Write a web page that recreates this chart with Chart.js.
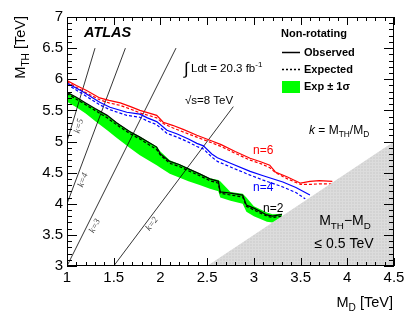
<!DOCTYPE html>
<html>
<head>
<meta charset="utf-8">
<script src="https://cdn.jsdelivr.net/npm/chart.js@4.4.1/dist/chart.umd.min.js"></script>
<style>html,body{margin:0;padding:0;background:#fff;}</style>
</head>
<body>
<canvas id="graph" width="415" height="317"></canvas>
<script>
/* ---------- data (TeV) ---------- */

// n=6 (red)
const n6_obs_x = [1.0,1.1,1.21,1.35,1.45,1.57,1.68,1.78,1.96,2.03,2.13,2.25,2.39,2.53,2.65,2.8,2.96,3.08,3.17,3.23,3.36,3.5,3.6,3.7,3.84];
const n6_obs_y = [5.98,5.90,5.82,5.70,5.66,5.62,5.56,5.50,5.42,5.31,5.26,5.19,5.10,5.02,4.95,4.84,4.73,4.67,4.62,4.51,4.43,4.33,4.36,4.37,4.36];
const n6_exp_y = [5.96,5.87,5.78,5.67,5.62,5.58,5.52,5.46,5.38,5.29,5.22,5.15,5.07,4.99,4.92,4.81,4.70,4.64,4.58,4.50,4.40,4.31,4.31,4.32,4.32];

// n=4 (blue)
const n4_obs_x = [1.0,1.17,1.35,1.46,1.64,1.78,1.86,1.96,2.07,2.18,2.3,2.39,2.46,2.55,2.61,2.75,2.96,3.1,3.31,3.45,3.6];
const n4_obs_y = [5.94,5.80,5.63,5.55,5.47,5.44,5.38,5.32,5.18,5.12,5.04,4.97,4.93,4.80,4.74,4.65,4.52,4.45,4.35,4.26,4.14];
const n4_exp_x = [1.0,1.17,1.35,1.46,1.64,1.78,1.86,1.96,2.07,2.18,2.3,2.39,2.46,2.55,2.61,2.75,2.96,3.1,3.31,3.45,3.55];
const n4_exp_y = [5.92,5.76,5.59,5.51,5.42,5.39,5.33,5.27,5.13,5.07,4.99,4.92,4.88,4.75,4.68,4.59,4.46,4.38,4.27,4.18,4.08];

// n=2 (black) and its expected +-1 sigma band
const n2_x     = [1.0,1.1,1.2,1.3,1.43,1.53,1.67,1.78,1.96,2.0,2.1,2.2,2.3,2.42,2.53,2.62,2.64,2.75,2.88,2.92,3.0,3.14,3.2,3.3];
const n2_obs_y = [5.79,5.71,5.62,5.53,5.42,5.30,5.16,5.07,4.91,4.80,4.68,4.63,4.56,4.48,4.40,4.36,4.19,4.17,4.14,3.98,3.93,3.82,3.80,3.83];
const n2_exp_y = [5.77,5.68,5.59,5.50,5.38,5.27,5.13,5.04,4.87,4.78,4.65,4.60,4.53,4.45,4.37,4.33,4.17,4.14,4.11,3.96,3.90,3.80,3.78,3.80];
const n2_up_y  = [5.80,5.71,5.62,5.53,5.42,5.31,5.17,5.08,4.92,4.84,4.70,4.64,4.57,4.49,4.41,4.38,4.36,4.19,4.16,4.10,3.96,3.86,3.83,3.84];
const n2_lo_y  = [5.64,5.55,5.45,5.33,5.18,5.06,4.90,4.78,4.62,4.58,4.48,4.42,4.36,4.30,4.24,4.20,4.10,4.05,4.00,3.87,3.80,3.71,3.70,3.78];

// k = M_TH / M_D guide lines (k, M_D start, M_D end)
const kValues = [5, 4, 3, 2];
const kStart  = [1.0, 1.0, 1.0, 1.5];
const kEnd    = [1.3, 1.625, 2.1667, 2.78];

// excluded corner M_TH - M_D <= 0.5 TeV
const cornerX = [2.5, 4.5];
const cornerY = [3.0, 5.0];

const xTicks = [1, 1.5, 2, 2.5, 3, 3.5, 4, 4.5];
const yTicks = [3, 3.5, 4, 4.5, 5, 5.5, 6, 6.5, 7];

/* ---------- helpers ---------- */

const FONT = "'Liberation Sans', Arial, Helvetica, sans-serif";

function pts(xs, ys) {
    return xs.map((x, i) => ({ x: x, y: ys[i] }));
}

function richText(ctx, x, y, parts, size, align, weight, color) {
    const w0 = weight || "normal";
    ctx.fillStyle = color || "#000";
    ctx.textBaseline = "alphabetic";
    ctx.textAlign = "left";
    const fontOf = p => {
        const s = (p.k === "sub" || p.k === "sup") ? size * 0.7 : (p.size || size);
        return (p.it ? "italic " : "") + w0 + " " + s + "px " + FONT;
    };
    let w = 0;
    parts.forEach(p => { ctx.font = fontOf(p); w += ctx.measureText(p.t).width; });
    let cx = align === "right" ? x - w : (align === "center" ? x - w / 2 : x);
    parts.forEach(p => {
        ctx.font = fontOf(p);
        let dy = 0;
        if (p.k === "sub") dy = size * 0.28;
        if (p.k === "sup") dy = -size * 0.42;
        ctx.fillText(p.t, cx, y + dy);
        cx += ctx.measureText(p.t).width;
    });
}

// light grey hatch for the excluded corner
const patCanvas = document.createElement("canvas");
patCanvas.width = 3; patCanvas.height = 3;
const pc = patCanvas.getContext("2d");
pc.fillStyle = "rgb(211,211,211)";
pc.fillRect(0, 0, 3, 3);
pc.fillStyle = "rgb(220,220,220)";
pc.fillRect(0, 0, 3, 1);
pc.fillRect(0, 0, 1, 3);
const greyPattern = pc.createPattern(patCanvas, "repeat");

/* ---------- datasets ---------- */

const datasets = [];

function addLine(data, color, dash, width, order) {
    datasets.push({
        data: data, showLine: true, borderColor: color, borderWidth: width,
        borderDash: dash, pointRadius: 0, fill: false, tension: 0, order: order
    });
}

// excluded corner (on top of the band)
datasets.push({
    data: pts(cornerX, cornerY), showLine: true, borderWidth: 0, borderColor: "rgba(0,0,0,0)",
    backgroundColor: greyPattern, fill: "start", pointRadius: 0, order: 0
});

addLine(pts(n6_obs_x, n6_obs_y), "#ff0000", [], 1.2, 1);
addLine(pts(n6_obs_x, n6_exp_y), "#ff0000", [3, 2], 1.2, 2);
addLine(pts(n4_obs_x, n4_obs_y), "#0000ff", [], 1.2, 1);
addLine(pts(n4_exp_x, n4_exp_y), "#0000ff", [3, 2], 1.2, 2);
addLine(pts(n2_x, n2_obs_y), "#000000", [], 1.2, 1);
addLine(pts(n2_x, n2_exp_y), "#000000", [3, 2], 1.2, 2);

for (let i = 0; i < kValues.length; i++) {
    const k = kValues[i];
    addLine([{ x: kStart[i], y: k * kStart[i] }, { x: kEnd[i], y: k * kEnd[i] }], "#000", [], 0.8, 3);
}

// band: upper filled down to lower
const bandUpIndex = datasets.length;
datasets.push({
    data: pts(n2_x, n2_up_y), showLine: true, borderWidth: 0, borderColor: "rgba(0,0,0,0)",
    backgroundColor: "#00ff00", fill: bandUpIndex + 1, pointRadius: 0, order: 5
});
datasets.push({
    data: pts(n2_x, n2_lo_y), showLine: true, borderWidth: 0, borderColor: "rgba(0,0,0,0)",
    fill: false, pointRadius: 0, order: 6
});

/* ---------- frame, ticks and texts ---------- */

const decorations = {
    id: "decorations",
    afterDatasetsDraw(chart) {
        const ctx = chart.ctx;
        const xs = chart.scales.x, ys = chart.scales.y;
        const a = chart.chartArea;
        ctx.save();

        // k labels along the guide lines
        const kLabelPos = [[79, 126], [83, 180], [95, 226], [152, 224]];
        for (let i = 0; i < kValues.length; i++) {
            const k = kValues[i];
            const p0x = xs.getPixelForValue(kStart[i]), p0y = ys.getPixelForValue(k * kStart[i]);
            const p1x = xs.getPixelForValue(kEnd[i]), p1y = ys.getPixelForValue(k * kEnd[i]);
            const ang = Math.atan2(p1y - p0y, p1x - p0x);
            ctx.save();
            ctx.translate(kLabelPos[i][0], kLabelPos[i][1]);
            ctx.rotate(ang);
            ctx.font = "italic 9px 'Liberation Serif', serif";
            ctx.fillStyle = "#444";
            ctx.textAlign = "center";
            ctx.textBaseline = "middle";
            ctx.fillText("k=" + k, 0, 0);
            ctx.restore();
        }

        // frame
        ctx.strokeStyle = "#000";
        ctx.lineWidth = 1;
        ctx.strokeRect(Math.round(a.left) + 0.5, Math.round(a.top) + 0.5,
                       Math.round(a.right - a.left) - 1, Math.round(a.bottom - a.top) - 1);

        // ticks (inward)
        ctx.beginPath();
        for (let v = 10; v <= 45; v++) {
            const px = Math.round(xs.getPixelForValue(v / 10)) + 0.5;
            const len = (v % 5 === 0) ? 8 : 4;
            ctx.moveTo(px, a.bottom); ctx.lineTo(px, a.bottom - len);
            ctx.moveTo(px, a.top); ctx.lineTo(px, a.top + len);
        }
        for (let v = 30; v <= 70; v++) {
            const py = Math.round(ys.getPixelForValue(v / 10)) + 0.5;
            const len = (v % 5 === 0) ? 10 : 5;
            ctx.moveTo(a.left, py); ctx.lineTo(a.left + len, py);
            ctx.moveTo(a.right, py); ctx.lineTo(a.right - len, py);
        }
        ctx.stroke();

        // axis titles
        richText(ctx, 393, 307, [{ t: "M" }, { t: "D", k: "sub" }, { t: " [TeV]" }], 14.5, "right");
        ctx.save();
        ctx.translate(25, 16);
        ctx.rotate(-Math.PI / 2);
        richText(ctx, 0, 0, [{ t: "M" }, { t: "TH", k: "sub" }, { t: " [TeV]" }], 14.5, "right");
        ctx.restore();

        // ATLAS
        ctx.font = "italic bold 14.5px " + FONT;
        ctx.fillStyle = "#000";
        ctx.textAlign = "left";
        ctx.textBaseline = "alphabetic";
        ctx.fillText("ATLAS", 84, 37);

        // luminosity and energy
        richText(ctx, 184, 74, [{ t: "\u222B", size: 17 }], 12, "left");
        richText(ctx, 191, 72, [{ t: "Ldt = 20.3 fb" }, { t: "-1", k: "sup" }], 11.5, "left");
        richText(ctx, 185, 104, [{ t: "\u221As=8 TeV" }], 11.5, "left");

        // legend
        richText(ctx, 281, 37, [{ t: "Non-rotating" }], 11, "left", "bold");
        ctx.strokeStyle = "#000";
        ctx.lineWidth = 1.5;
        ctx.beginPath(); ctx.moveTo(282, 52.5); ctx.lineTo(300, 52.5); ctx.stroke();
        ctx.setLineDash([2, 2]);
        ctx.beginPath(); ctx.moveTo(282, 69.5); ctx.lineTo(300, 69.5); ctx.stroke();
        ctx.setLineDash([]);
        richText(ctx, 304, 56, [{ t: "Observed" }], 11, "left", "bold");
        richText(ctx, 304, 73, [{ t: "Expected" }], 11, "left", "bold");
        ctx.fillStyle = "#00ff00";
        ctx.fillRect(282, 81, 18, 12);
        richText(ctx, 304, 90, [{ t: "Exp \u00B1 1\u03C3" }], 11, "left", "bold");

        // k definition
        richText(ctx, 309, 134, [{ t: "k", it: true }, { t: " = M" }, { t: "TH", k: "sub" }, { t: "/M" }, { t: "D", k: "sub" }], 12, "left");

        // curve labels
        richText(ctx, 253, 154, [{ t: "n=6" }], 12, "left", "normal", "#ff0000");
        richText(ctx, 253, 191, [{ t: "n=4" }], 12, "left", "normal", "#0000ff");
        richText(ctx, 263, 212, [{ t: "n=2" }], 12, "left", "normal", "#000");

        // excluded corner text
        richText(ctx, 345, 225, [{ t: "M" }, { t: "TH", k: "sub" }, { t: "\u2212M" }, { t: "D", k: "sub" }], 14, "center");
        richText(ctx, 344, 248, [{ t: "\u2264 0.5 TeV" }], 14, "center");

        ctx.restore();
    }
};

/* ---------- chart ---------- */

const ctx = document.getElementById("graph").getContext("2d");

const config = {
    type: "scatter",
    data: { datasets: datasets },
    options: {
        responsive: false,
        animation: false,
        devicePixelRatio: 1,
        layout: { padding: { left: 0, right: 21, top: 17, bottom: 0 } },
        plugins: { legend: { display: false }, tooltip: { enabled: false } },
        scales: {
            x: {
                type: "linear", min: 1, max: 4.5,
                afterBuildTicks: s => { s.ticks = xTicks.map(v => ({ value: v })); },
                afterFit: s => { s.height = 51; },
                grid: { display: false, drawTicks: false },
                border: { display: false },
                ticks: { color: "#000", padding: 3, maxRotation: 0, autoSkip: false,
                         font: { family: FONT, size: 15 }, callback: v => String(v) }
            },
            y: {
                type: "linear", min: 3, max: 7,
                afterBuildTicks: s => { s.ticks = yTicks.map(v => ({ value: v })); },
                afterFit: s => { s.width = 67; },
                grid: { display: false, drawTicks: false },
                border: { display: false },
                ticks: { color: "#000", padding: 4, autoSkip: false,
                         font: { family: FONT, size: 15 }, callback: v => String(v) }
            }
        }
    },
    plugins: [decorations]
};

const myChart = new Chart(ctx, config);
</script>
</body>
</html>
